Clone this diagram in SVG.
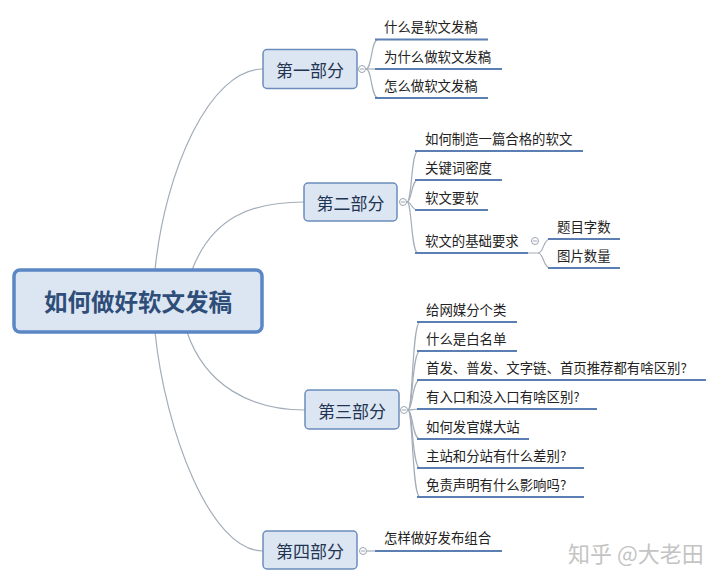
<svg xmlns="http://www.w3.org/2000/svg" width="720" height="583" viewBox="0 0 720 583">
<style>
  .conn { fill: none; stroke: #a3adb8; stroke-width: 1.2; }
  .ul { stroke: #5b7fb3; stroke-width: 2.2; stroke-linecap: butt; }
  .box { fill: #dce6f2; stroke: #6b8dbd; stroke-width: 1.5; }
  .root { fill: #dce6f2; stroke: #5b87c5; stroke-width: 3.5; }
  .lbl { font-family: "Noto Sans CJK SC", "Microsoft YaHei", sans-serif; font-size: 17px; fill: #1f3553; text-anchor: middle; dominant-baseline: central; }
  .rt { font-family: "Noto Sans CJK SC", sans-serif; font-size: 23.5px; font-weight: bold; fill: #2e4d78; text-anchor: middle; dominant-baseline: central; }
  .ct { font-family: "Noto Sans CJK SC", "Microsoft YaHei", sans-serif; font-size: 13.4px; fill: #222; }
  .tg { fill: #fff; stroke: #9aa5b1; stroke-width: 1; }
  .wm { font-family: "Noto Sans CJK SC", sans-serif; font-size: 22px; fill: #c4c4c4; }
</style>
<rect width="720" height="583" fill="#ffffff"/>

<g id="connectors">
  <!-- root to parts -->
  <path class="conn" d="M155,270 C165,170 210,69 263,69"/>
  <path class="conn" d="M192,270 C212,218 250,202 304,202"/>
  <path class="conn" d="M187,332 C205,385 250,410 305,410"/>
  <path class="conn" d="M155,332 C165,430 210,551 263,551"/>
  <!-- part 1 fan -->
  <path class="conn" d="M366,69 C372,69 371,39.5 378,39.5"/>
  <path class="conn" d="M366,69 H376"/>
  <path class="conn" d="M366,69 C372,69 371,98 378,98"/>
  <!-- part 2 fan -->
  <path class="conn" d="M407,202 C412,202 411,151 418,151"/>
  <path class="conn" d="M407,202 C412,202 411,180 418,180"/>
  <path class="conn" d="M407,202 C412,202 411,210 418,210"/>
  <path class="conn" d="M407,202 C412,202 411,253 418,253"/>
  <!-- sub fan -->
  <path class="conn" d="M528,253 H538 C544,253 543,239 550,239"/>
  <path class="conn" d="M538,253 C544,253 543,268 550,268"/>
  <!-- part 3 fan -->
  <path class="conn" d="M408,410 C413,410 412,322 420,322"/>
  <path class="conn" d="M408,410 C413,410 412,351 420,351"/>
  <path class="conn" d="M408,410 C413,410 412,380 420,380"/>
  <path class="conn" d="M408,410 C413,410 412,409 420,409"/>
  <path class="conn" d="M408,410 C413,410 412,439 420,439"/>
  <path class="conn" d="M408,410 C413,410 412,468 420,468"/>
  <path class="conn" d="M408,410 C413,410 412,497 420,497"/>
  <!-- part 4 -->
  <path class="conn" d="M367,551 H376"/>
</g>

<g id="root">
  <rect class="root" x="14" y="270" width="248" height="62" rx="6"/>
  <text class="rt" x="138" y="301">如何做好软文发稿</text>
</g>

<g id="part1">
  <rect class="box" x="263" y="49.5" width="94" height="39" rx="4"/>
  <text class="lbl" x="310" y="69">第一部分</text>
  <circle class="tg" cx="362" cy="69" r="3.5"/>
  <line x1="360" y1="69" x2="364" y2="69" stroke="#9aa5b1" stroke-width="1"/>
</g>
<g id="p1c1"><line class="ul" x1="375" y1="39.5" x2="488" y2="39.5"/><text class="ct" x="384" y="32">什么是软文发稿</text></g>
<g id="p1c2"><line class="ul" x1="375" y1="69" x2="502" y2="69"/><text class="ct" x="384" y="62">为什么做软文发稿</text></g>
<g id="p1c3"><line class="ul" x1="375" y1="98" x2="488" y2="98"/><text class="ct" x="384" y="91">怎么做软文发稿</text></g>

<g id="part2">
  <rect class="box" x="304" y="183" width="93" height="38" rx="4"/>
  <text class="lbl" x="350.5" y="202">第二部分</text>
  <circle class="tg" cx="403" cy="202" r="3.5"/>
  <line x1="401" y1="202" x2="405" y2="202" stroke="#9aa5b1" stroke-width="1"/>
</g>
<g id="p2c1"><line class="ul" x1="415" y1="151" x2="583" y2="151"/><text class="ct" x="425" y="144">如何制造一篇合格的软文</text></g>
<g id="p2c2"><line class="ul" x1="415" y1="180" x2="502" y2="180"/><text class="ct" x="425" y="173">关键词密度</text></g>
<g id="p2c3"><line class="ul" x1="415" y1="210" x2="488" y2="210"/><text class="ct" x="425" y="203">软文要软</text></g>
<g id="p2c4">
  <line class="ul" x1="415" y1="253" x2="528" y2="253"/><text class="ct" x="425" y="246">软文的基础要求</text>
  <circle class="tg" cx="535" cy="241" r="3.5"/>
  <line x1="533" y1="241" x2="537" y2="241" stroke="#9aa5b1" stroke-width="1"/>
</g>
<g id="p2c4a"><line class="ul" x1="548" y1="239" x2="620" y2="239"/><text class="ct" x="557" y="232">题目字数</text></g>
<g id="p2c4b"><line class="ul" x1="548" y1="268" x2="620" y2="268"/><text class="ct" x="557" y="261">图片数量</text></g>

<g id="part3">
  <rect class="box" x="305" y="390" width="94" height="39" rx="4"/>
  <text class="lbl" x="352" y="410">第三部分</text>
  <circle class="tg" cx="404" cy="410" r="3.5"/>
  <line x1="402" y1="410" x2="406" y2="410" stroke="#9aa5b1" stroke-width="1"/>
</g>
<g id="p3c1"><line class="ul" x1="417" y1="322" x2="517" y2="322"/><text class="ct" x="426" y="315">给网媒分个类</text></g>
<g id="p3c2"><line class="ul" x1="417" y1="351" x2="517" y2="351"/><text class="ct" x="426" y="344">什么是白名单</text></g>
<g id="p3c3"><line class="ul" x1="417" y1="380" x2="706" y2="380"/><text class="ct" x="426" y="373">首发、普发、文字链、首页推荐都有啥区别?</text></g>
<g id="p3c4"><line class="ul" x1="417" y1="409" x2="597" y2="409"/><text class="ct" x="426" y="402">有入口和没入口有啥区别?</text></g>
<g id="p3c5"><line class="ul" x1="417" y1="439" x2="529" y2="439"/><text class="ct" x="426" y="432">如何发官媒大站</text></g>
<g id="p3c6"><line class="ul" x1="417" y1="468" x2="584" y2="468"/><text class="ct" x="426" y="461">主站和分站有什么差别?</text></g>
<g id="p3c7"><line class="ul" x1="417" y1="497" x2="584" y2="497"/><text class="ct" x="426" y="490">免责声明有什么影响吗?</text></g>

<g id="part4">
  <rect class="box" x="263" y="531" width="94" height="38" rx="4"/>
  <text class="lbl" x="310" y="550">第四部分</text>
  <circle class="tg" cx="363" cy="551" r="3.5"/>
  <line x1="361" y1="551" x2="365" y2="551" stroke="#9aa5b1" stroke-width="1"/>
</g>
<g id="p4c1"><line class="ul" x1="375" y1="551" x2="502" y2="551"/><text class="ct" x="384" y="543">怎样做好发布组合</text></g>

<text class="wm" x="568" y="562">知乎 @大老田</text>
</svg>
